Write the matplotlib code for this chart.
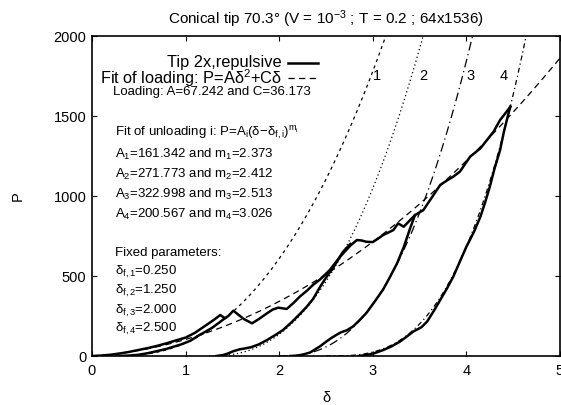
import numpy as np
import matplotlib
matplotlib.use("Agg")
import matplotlib.pyplot as plt

plt.rcParams['font.family'] = ['Liberation Sans', 'DejaVu Sans']
plt.rcParams['mathtext.fontset'] = 'custom'
plt.rcParams['mathtext.rm'] = 'Liberation Sans'
plt.rcParams['mathtext.it'] = 'Liberation Sans'
plt.rcParams['mathtext.bf'] = 'Liberation Sans:bold'

# ---- data ----
load_d = [0, 0.1, 0.2, 0.3, 0.4, 0.5, 0.6, 0.7, 0.8, 0.9, 1.0, 1.1, 1.2, 1.3, 1.37,
          1.42, 1.46, 1.51, 1.56, 1.62, 1.71, 1.78, 1.87, 1.93, 1.99, 2.08, 2.15, 2.22,
          2.30, 2.36, 2.44, 2.54, 2.65, 2.76, 2.83, 2.88, 2.93, 3.0, 3.06, 3.11, 3.16,
          3.22, 3.27, 3.33, 3.40, 3.45, 3.54, 3.63, 3.72, 3.80, 3.86, 3.93, 4.04, 4.15,
          4.22, 4.29, 4.36, 4.42, 4.47]
load_P = [0, 3, 8, 16, 26, 38, 50, 64, 80, 98, 115, 145, 185, 225, 256,
          236, 252, 283, 260, 232, 204, 230, 267, 290, 302, 294, 330, 371,
          410, 444, 480, 537, 620, 690, 725, 722, 714, 712, 735, 756, 770,
          787, 829, 808, 850, 880, 912, 990, 1069, 1100, 1121, 1152, 1246, 1298,
          1350, 1402, 1475, 1520, 1558]

unl1_d = [1.42, 1.35, 1.28, 1.20, 1.15, 1.05, 0.95, 0.87, 0.80, 0.75, 0.69, 0.60, 0.50, 0.40, 0.30]
unl1_P = [236, 205, 175, 148, 132, 95, 72, 58, 45, 38, 30, 18, 8, 3, 0]

unl2_d = [2.76, 2.68, 2.58, 2.50, 2.44, 2.36, 2.29, 2.22, 2.13, 2.04, 1.95, 1.87,
          1.78, 1.70, 1.64, 1.58, 1.51, 1.45, 1.40, 1.33]
unl2_P = [700, 650, 555, 490, 435, 355, 305, 262, 210, 162, 128, 100,
          72, 55, 48, 42, 30, 15, 6, 0]

unl3_d = [3.45, 3.40, 3.33, 3.26, 3.18, 3.11, 3.02, 2.93, 2.86, 2.79, 2.72, 2.66,
          2.62, 2.55, 2.48, 2.44, 2.38, 2.33, 2.26, 2.20, 2.12]
unl3_P = [880, 800, 680, 580, 490, 415, 340, 268, 225, 185, 160, 148,
          135, 110, 80, 62, 40, 22, 10, 3, 0]

unl4_d = [4.47, 4.45, 4.40, 4.36, 4.30, 4.25, 4.20, 4.15, 4.08, 4.00, 3.93, 3.86,
          3.79, 3.72, 3.65, 3.58, 3.52, 3.43, 3.36, 3.29, 3.20, 3.11, 3.02, 2.93, 2.85]
unl4_P = [1558, 1517, 1400, 1287, 1170, 1058, 960, 871, 775, 683, 590, 496,
          420, 350, 280, 215, 180, 152, 120, 90, 60, 37, 18, 6, 0]

# fit parameters (as printed on the chart)
load_A, load_C = 67.242, 36.173
unl_A = [161.342, 271.773, 322.998, 200.567]
unl_m = [2.373, 2.412, 2.513, 3.026]
unl_df = [0.250, 1.250, 2.000, 2.500]
curve_labels = ['1', '2', '3', '4']
label_d = [3.04, 3.54, 4.04, 4.40]
legend_labels = ['Tip 2x,repulsive', 'Fit of loading: P=Aδ$^2$+Cδ']

W, H = 561, 405
fig = plt.figure(figsize=(W / 100, H / 100), dpi=100)
L, R, B, T = 92, 560, 356, 36
ax = fig.add_axes([L / W, 1 - B / H, (R - L) / W, (B - T) / H])

FS_TICK = 10.5
FS_ANN = 9.5
FS_LEG = 11.8
lw_data = 1.8
load_dash = (5, 3.5)
for d, p in [(load_d, load_P), (unl1_d, unl1_P), (unl2_d, unl2_P),
             (unl3_d, unl3_P), (unl4_d, unl4_P)]:
    ax.plot(d, p, color='black', lw=lw_data, solid_joinstyle='round')

xs = np.linspace(0, 5, 400)
ax.plot(xs, load_A * xs ** 2 + load_C * xs, color='black', lw=0.9, dashes=load_dash)

styles = [(2.5, 3.0), (1.0, 2.2), (7, 3, 1, 3), (4, 2.5, 1, 2.5)]
for A, m, df, st, lab, ld in zip(unl_A, unl_m, unl_df, styles, curve_labels, label_d):
    x = np.linspace(df, 5, 600)
    ax.plot(x, A * (x - df) ** m, color='black', lw=0.9, dashes=st)
    ax.text(ld, 1750, lab, fontsize=FS_TICK, ha='center', va='center')

ax.set_xlim(0, 5)
ax.set_ylim(0, 2000)
ax.set_xticks([0, 1, 2, 3, 4, 5])
ax.set_yticks([0, 500, 1000, 1500, 2000])
ax.tick_params(direction='in', length=3.6, width=0.8, top=True, right=True,
               labelsize=FS_TICK)
ax.tick_params(axis='x', pad=6)
ax.tick_params(axis='y', pad=4)
for s in ax.spines.values():
    s.set_linewidth(1.2)

ax.set_xlabel('δ', fontsize=FS_TICK, labelpad=9)
ax.set_ylabel('P', fontsize=FS_TICK, labelpad=21)
ax.set_title('Conical tip 70.3° (V = 10$^{-3}$ ; T = 0.2 ; 64x1536)', fontsize=11, pad=9)


def axf(px, py):
    return (px - L) / (R - L), (B - py) / (B - T)


# legend drawn by hand (right-aligned text, sample on the right)
leg_rows = [63, 78]
leg_styles = [dict(lw=lw_data), dict(lw=0.9, dashes=load_dash)]
for lab, py, st in zip(legend_labels, leg_rows, leg_styles):
    x0, y0 = axf(282, py)
    ax.text(x0, y0, lab, transform=ax.transAxes, fontsize=FS_LEG,
            ha='right', va='center')
    xa, _ = axf(288, py)
    xb, _ = axf(318, py)
    ax.plot([xa, xb], [y0, y0], transform=ax.transAxes, color='black', **st)


def tx(px, py, s):
    x, y = axf(px, py)
    ax.text(x, y, s, transform=ax.transAxes, fontsize=FS_ANN, ha='left', va='center')


tx(113, 92, 'Loading: A=67.242 and C=36.173')
tx(115, 133, 'Fit of unloading i: P=A$_i$(δ−δ$_{f,i}$)$^{m_i}$')
ys = [154, 174, 194, 214]
for i in range(4):
    tx(115, ys[i], 'A$_%d$=%.3f and m$_%d$=%.3f' % (i + 1, unl_A[i], i + 1, unl_m[i]))
tx(115, 253, 'Fixed parameters:')
ys2 = [272, 291, 311, 329]
for i in range(4):
    tx(115, ys2[i], 'δ$_{f,%d}$=%.3f' % (i + 1, unl_df[i]))

fig.savefig('out.png', dpi=100)
